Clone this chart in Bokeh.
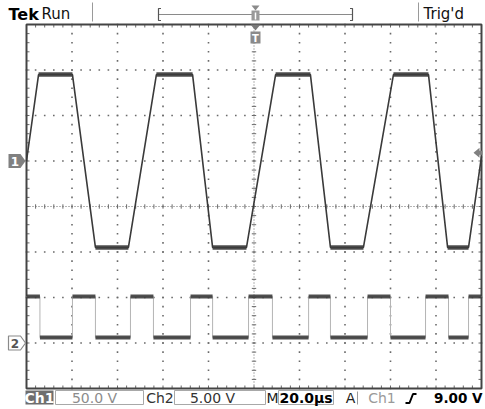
import numpy as np
from bokeh.plotting import figure
from bokeh.models import Range1d
from bokeh.embed import file_html
from bokeh.resources import INLINE
from bokeh.core.properties import value

# ---------------- data ----------------
time_per_div_us = 20.0
ch1_volts_per_div = 50.0
ch2_volts_per_div = 5.0
ch1_offset_div = 1.0
ch2_offset_div = -3.0
trigger_level_v = 9.0

# Channel 1: trapezoid wave, vertex times (us) and voltages (V)
ch1_time_us = [-100, -94.7, -79.8, -69.7, -55.2, -42.9, -27.0, -18.2, -3.3,
               9.5, 24.8, 33.6, 48.1, 61.3, 76.7, 85.1, 94.3, 100]
ch1_volts = [0, 95, 95, -95, -95, 95, 95, -95, -95,
             95, 95, -95, -95, 95, 95, -95, -95, 5]

# Channel 2: square wave, segment boundaries (us) and segment levels (V)
ch2_edge_us = [-100, -94.1, -79.8, -69.7, -54.3, -44.2, -27.9, -18.2, -2.4,
               8.1, 24.0, 33.6, 49.9, 60.0, 75.4, 85.5, 94.3, 100]
ch2_levels_v = [5.1, 0.6, 5.1, 0.6, 5.1, 0.6, 5.1, 0.6, 5.1,
                0.6, 5.1, 0.6, 5.1, 0.6, 5.1, 0.6, 5.1]

status_labels = ["Ch1", "50.0 V", "Ch2", "5.00 V", "M", "20.0µs", "A", "Ch1", "9.00 V"]
header_labels = ["Tek", "Run", "Trig'd"]

# ---------------- geometry helpers (reference pixel -> data) ----------------
PX_PER_DIV = 45.5
def sx(px):
    return -100 + (px - 26) / PX_PER_DIV * time_per_div_us
def sy(py):
    return 4 - (py - 24) / PX_PER_DIV

FONT = value("DejaVu Sans")

p = figure(width=485, height=409, x_range=Range1d(sx(0), sx(485)),
           y_range=Range1d(sy(409), sy(0)), x_axis_type=None, y_axis_type=None,
           toolbar_location=None, output_backend="svg", min_border=0,
           outline_line_color=None, background_fill_color="white",
           border_fill_color="white")

# ---------------- graticule ----------------
GRID = "#6a6a6a"
dot_t = np.arange(-100, 100.001, time_per_div_us / 5)
dot_y = np.arange(-4, 4.001, 0.2)
gx, gy = [], []
for k in range(-4, 5):
    if k == 0:
        continue
    t = k * time_per_div_us
    gx += [t] * len(dot_y)
    gy += list(dot_y)
for k in range(-3, 4):
    if k == 0:
        continue
    gx += list(dot_t)
    gy += [k] * len(dot_t)
p.scatter(gx, gy, marker="square", size=1.6, fill_color=GRID, line_color=None)

# center cross
p.line([-100, 100], [0, 0], line_color=GRID, line_width=1, line_dash="1 2")
p.line([0, 0], [-4, 4], line_color=GRID, line_width=1, line_dash="1 2")
tick_v = 2.2 / PX_PER_DIV
tick_h = 2.2 / PX_PER_DIV * time_per_div_us
p.segment(x0=dot_t, y0=-tick_v, x1=dot_t, y1=tick_v, line_color=GRID, line_width=1)
p.segment(x0=-tick_h, y0=dot_y, x1=tick_h, y1=dot_y, line_color=GRID, line_width=1)

# border ticks
bt = 3.0 / PX_PER_DIV
bh = 3.0 / PX_PER_DIV * time_per_div_us
p.segment(x0=dot_t, y0=4, x1=dot_t, y1=4 - bt, line_color=GRID)
p.segment(x0=dot_t, y0=-4, x1=dot_t, y1=-4 + bt, line_color=GRID)
p.segment(x0=-100, y0=dot_y, x1=-100 + bh, y1=dot_y, line_color=GRID)
p.segment(x0=100, y0=dot_y, x1=100 - bh, y1=dot_y, line_color=GRID)

# screen border
p.quad(left=-100, right=100, bottom=-4, top=4, fill_color=None,
       line_color="#444444", line_width=2)

# ---------------- traces ----------------
c1x = np.array(ch1_time_us, dtype=float)
c1y = np.array(ch1_volts, dtype=float) / ch1_volts_per_div + ch1_offset_div
p.line(c1x, c1y, line_color="#3a3a3a", line_width=1.6)
plat_x, plat_y = [], []
for i in range(len(c1x) - 1):
    if c1y[i] == c1y[i + 1]:
        plat_x.append([c1x[i], c1x[i + 1]])
        plat_y.append([c1y[i], c1y[i + 1]])
p.multi_line(plat_x, plat_y, line_color="#3c3c3c", line_width=4.5, line_alpha=0.9)

c2x, c2y, p2x, p2y = [], [], [], []
for i, lvl in enumerate(ch2_levels_v):
    yv = lvl / ch2_volts_per_div + ch2_offset_div
    c2x += [ch2_edge_us[i], ch2_edge_us[i + 1]]
    c2y += [yv, yv]
    p2x.append([ch2_edge_us[i], ch2_edge_us[i + 1]])
    p2y.append([yv, yv])
p.line(c2x, c2y, line_color="#b4b4b4", line_width=1)
p.multi_line(p2x, p2y, line_color="#3c3c3c", line_width=4, line_alpha=0.9)

# ---------------- markers ----------------
def poly(pts, fill, line=None, lw=1):
    p.patch([sx(a) for a, b in pts], [sy(b) for a, b in pts], fill_color=fill,
            line_color=line, line_width=lw)

def txt(x, y, s, size, color, bold=False, align="center"):
    p.text(x=[sx(x)], y=[sy(y)], text=[s], text_font=FONT,
           text_font_size=f"{size}px", text_color=color,
           text_font_style="bold" if bold else "normal",
           text_align=align, text_baseline="middle")

# channel 1 ground marker
g1 = 24 + (4 - ch1_offset_div) * PX_PER_DIV
poly([(8, g1 - 7), (20, g1 - 7), (25, g1), (20, g1 + 7), (8, g1 + 7)], "#808080")
txt(14.5, g1 + 0.5, "1", 12, "white", bold=True)
# channel 2 ground marker
g2 = 24 + (4 - ch2_offset_div) * PX_PER_DIV
poly([(8, g2 - 7), (20, g2 - 7), (25, g2), (20, g2 + 7), (8, g2 + 7)], "white", "#8a8a8a", 1.2)
txt(14.5, g2 + 0.5, "2", 12, "#555555", bold=True)
# trigger level arrow (right)
tl = 24 + (4 - (trigger_level_v / ch1_volts_per_div + ch1_offset_div)) * PX_PER_DIV
poly([(473, tl), (479, tl - 5), (479, tl - 2), (482, tl - 2), (482, tl + 2),
      (479, tl + 2), (479, tl + 5)], "#808080")
# trigger position marker (top)
poly([(250, 24), (260, 24), (255, 30)], "#7a7a7a")
poly([(250, 31), (260, 31), (260, 43), (250, 43)], "#8a8a8a")
txt(255, 37.5, "T", 10, "white", bold=True)

# ---------------- header ----------------
txt(8, 13.5, header_labels[0], 16, "black", bold=True, align="left")
txt(41, 13.5, header_labels[1], 15, "#111111", align="left")
txt(423, 13.5, header_labels[2], 15, "#111111", align="left")
p.segment(x0=[sx(92), sx(418)], y0=[sy(2)] * 2, x1=[sx(92), sx(418)], y1=[sy(21)] * 2,
          line_color="#9a9a9a", line_width=1)
p.line([sx(158), sx(352)], [sy(14), sy(14)], line_color="#8a8a8a", line_width=1)
p.line([sx(160.5), sx(158), sx(158), sx(160.5)], [sy(8), sy(8), sy(20), sy(20)],
       line_color="#555555", line_width=1.2)
p.line([sx(349.5), sx(352), sx(352), sx(349.5)], [sy(8), sy(8), sy(20), sy(20)],
       line_color="#555555", line_width=1.2)
poly([(251, 5), (259, 5), (255, 10)], "#8a8a8a")
poly([(251, 10), (259, 10), (259, 20), (251, 20)], "#9a9a9a")
p.line([sx(255), sx(255)], [sy(12), sy(19)], line_color="white", line_width=1.5)

# ---------------- status bar ----------------
top, bot = 390, 404
p.quad(left=[sx(25)], right=[sx(53)], top=[sy(top)], bottom=[sy(bot)],
       fill_color="#6e6e6e", line_color=None)
p.quad(left=[sx(55), sx(174), sx(278)], right=[sx(143), sx(265), sx(333)],
       top=[sy(top)] * 3, bottom=[sy(bot)] * 3, fill_color=None,
       line_color="#a8a8a8", line_width=1)
my = 397.5
txt(39, my, status_labels[0], 14, "white", bold=True)
txt(94, my, status_labels[1], 14, "#8c8c8c")
txt(159.5, my, status_labels[2], 14, "#333333")
txt(212, my, status_labels[3], 14, "#333333")
txt(272, my, status_labels[4], 14, "#222222")
txt(305.5, my, status_labels[5], 14, "black", bold=True)
txt(350, my, status_labels[6], 14, "#222222")
p.line([sx(357), sx(357)], [sy(391), sy(404)], line_color="#9a9a9a", line_width=1)
txt(381.5, my, status_labels[7], 14, "#9a9a9a")
p.line([sx(405), sx(409), sx(412.5), sx(416)], [sy(402.5), sy(402.5), sy(393.5), sy(393.5)],
       line_color="black", line_width=2)
txt(482, my, status_labels[8], 13.5, "black", bold=True, align="right")

open("out.html", "w").write(file_html(p, INLINE))
